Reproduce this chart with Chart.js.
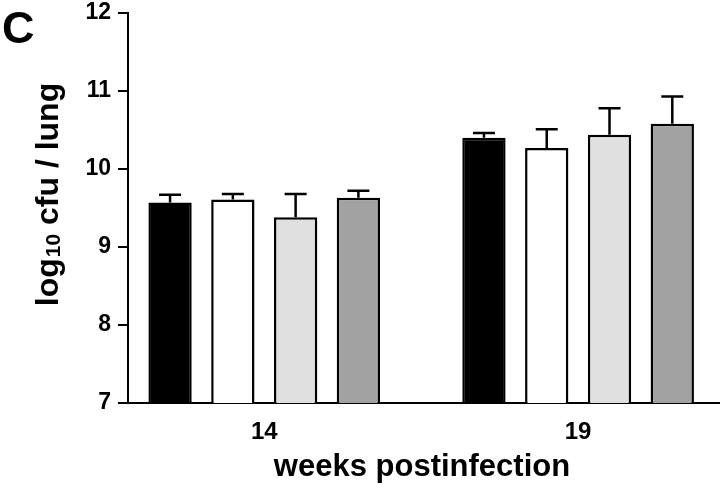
<!DOCTYPE html>
<html lang="en">
<head>
    <meta charset="UTF-8">
    <title>log10 cfu / lung</title>
    <script src="https://cdn.jsdelivr.net/npm/chart.js"></script>
    <style>
        html, body { margin: 0; padding: 0; background: #fff; }
        #wrap { width: 720px; height: 488px; position: relative; }
    </style>
</head>
<body>
    <div id="wrap"><canvas id="cfuChart" width="720" height="488"></canvas></div>

    <script>
        // weeks postinfection (x positions of the two groups)
        const weeks = [14, 19];
        const xTicks = [14, 19];
        const yTicks = [7, 8, 9, 10, 11, 12];

        // mean log10 cfu per lung for the four groups
        const blackBars = [9.57, 10.40];
        const whiteBars = [9.61, 10.27];
        const lightBars = [9.38, 10.44];
        const darkBars  = [9.63, 10.58];

        // upper error (SD)
        const blackErr = [0.10, 0.06];
        const whiteErr = [0.07, 0.24];
        const lightErr = [0.30, 0.34];
        const darkErr  = [0.09, 0.35];

        const FONT = '"Liberation Sans", Arial, sans-serif';

        function toPoints(vals) {
            return weeks.map((w, i) => ({ x: w, y: vals[i] }));
        }

        function makeSet(label, vals, errs, fill) {
            return {
                label: label,
                data: toPoints(vals),
                errors: errs,
                backgroundColor: fill,
                borderColor: '#000',
                borderWidth: 2.5,
                borderSkipped: false,
                categoryPercentage: 0.8,
                barPercentage: 0.69
            };
        }

        // upper error bars with a cap
        const errorBars = {
            id: 'errorBars',
            afterDatasetsDraw(chart) {
                const ctx = chart.ctx;
                const yScale = chart.scales.y;
                ctx.save();
                ctx.strokeStyle = '#000';
                ctx.lineWidth = 2.5;
                chart.data.datasets.forEach((ds, di) => {
                    const meta = chart.getDatasetMeta(di);
                    meta.data.forEach((bar, i) => {
                        const v = ds.data[i].y;
                        const top = yScale.getPixelForValue(v);
                        const end = yScale.getPixelForValue(v + ds.errors[i]);
                        ctx.beginPath();
                        ctx.moveTo(bar.x, top);
                        ctx.lineTo(bar.x, end);
                        ctx.moveTo(bar.x - 11, end);
                        ctx.lineTo(bar.x + 11, end);
                        ctx.stroke();
                    });
                });
                ctx.restore();
            }
        };

        // panel letter and axis titles
        const titles = {
            id: 'titles',
            afterDraw(chart) {
                const ctx = chart.ctx;
                ctx.save();
                ctx.fillStyle = '#000';

                ctx.font = 'bold 45px ' + FONT;
                ctx.textAlign = 'left';
                ctx.textBaseline = 'alphabetic';
                ctx.fillText('C', 2, 43);

                ctx.font = 'bold 31px ' + FONT;
                ctx.textAlign = 'center';
                ctx.fillText('weeks postinfection', 422, 476);

                // y title with subscript 10
                ctx.translate(58, 195);
                ctx.rotate(-Math.PI / 2);
                const big = 'bold 32px ' + FONT;
                const small = 'bold 21px ' + FONT;
                ctx.textAlign = 'left';
                ctx.font = big;
                const w1 = ctx.measureText('log').width;
                ctx.font = small;
                const w2 = ctx.measureText('10').width;
                ctx.font = big;
                const w3 = ctx.measureText(' cfu / lung').width;
                let x = -(w1 + w2 + w3) / 2;
                ctx.fillText('log', x, 0);
                x += w1;
                ctx.font = small;
                ctx.fillText('10', x + 1, 2);
                x += w2 + 1;
                ctx.font = big;
                ctx.fillText(' cfu / lung', x, 0);
                ctx.restore();
            }
        };

        new Chart(document.getElementById('cfuChart'), {
            type: 'bar',
            data: {
                datasets: [
                    makeSet('A', blackBars, blackErr, '#000000'),
                    makeSet('B', whiteBars, whiteErr, '#ffffff'),
                    makeSet('C', lightBars, lightErr, '#e0e0e0'),
                    makeSet('D', darkBars, darkErr, '#a2a2a2')
                ]
            },
            options: {
                responsive: false,
                animation: false,
                layout: { padding: { left: 0, top: 13, right: 0, bottom: 0 } },
                plugins: {
                    legend: { display: false },
                    tooltip: { enabled: false }
                },
                scales: {
                    x: {
                        type: 'linear',
                        offset: false,
                        min: 11.83,
                        max: 21.26,
                        afterBuildTicks: (scale) => { scale.ticks = xTicks.map(v => ({ value: v })); },
                        afterFit: (scale) => { scale.height = 85; },
                        grid: { display: false, offset: false },
                        border: { display: true, color: '#000', width: 2 },
                        ticks: {
                            color: '#000',
                            padding: 7,
                            maxRotation: 0,
                            font: { family: FONT, size: 24, weight: 'bold' },
                            callback: (v) => String(v)
                        }
                    },
                    y: {
                        min: 7,
                        max: 12,
                        afterBuildTicks: (scale) => { scale.ticks = yTicks.map(v => ({ value: v })); },
                        afterFit: (scale) => {
                            scale.width = 128;
                            scale.paddingTop = 0;
                            scale.paddingBottom = 0;
                        },
                        grid: {
                            drawOnChartArea: false,
                            color: '#000',
                            tickColor: '#000',
                            tickLength: 10,
                            lineWidth: 2
                        },
                        border: { display: true, color: '#000', width: 2 },
                        ticks: {
                            color: '#000',
                            padding: 7,
                            font: { family: FONT, size: 23, weight: 'bold' }
                        }
                    }
                }
            },
            plugins: [errorBars, titles]
        });
    </script>
</body>
</html>
